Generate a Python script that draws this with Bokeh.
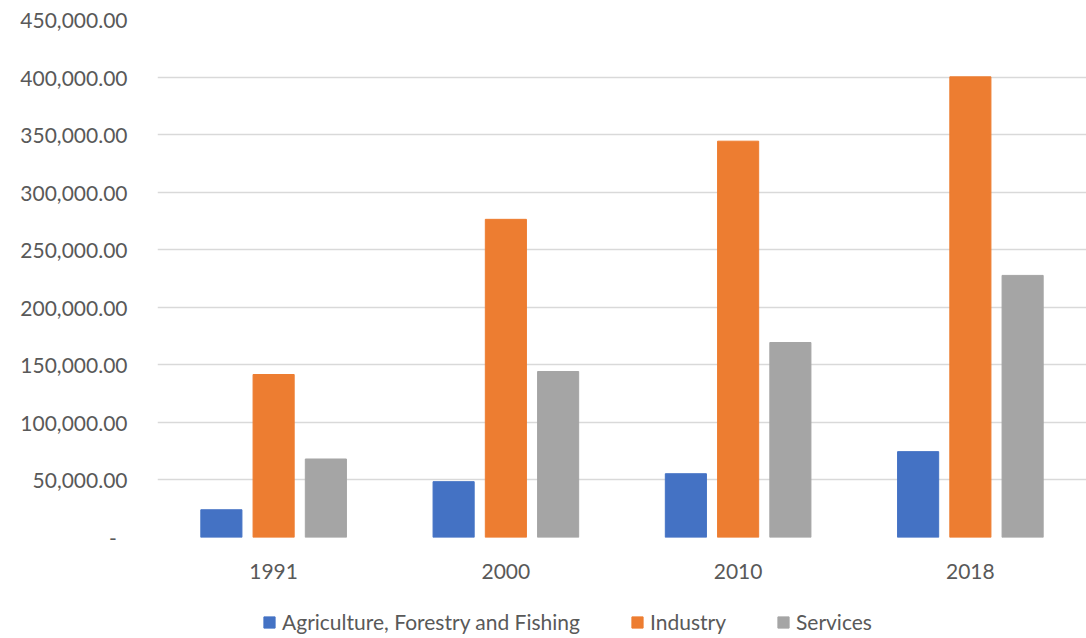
from bokeh.plotting import figure
from bokeh.layouts import column
from bokeh.models import (ColumnDataSource, FactorRange, Range1d, Legend, LegendItem,
                          FixedTicker, CustomJSTickFormatter)
from bokeh.transform import dodge
from bokeh.embed import file_html
from bokeh.resources import INLINE

# Data
years = ["1991", "2000", "2010", "2018"]
agriculture = [24100, 48500, 55400, 74600]
industry = [141600, 276400, 344300, 400200]
services = [68200, 144200, 169400, 227700]
y_ticks = [0, 50000, 100000, 150000, 200000, 250000, 300000, 350000, 400000, 450000]

series_names = ["Agriculture, Forestry and Fishing", "Industry", "Services"]
series_cols = ["agri", "ind", "serv"]
colors = ["#4472C4", "#ED7D31", "#A5A5A5"]
FONT = "Lato"
TEXT = "#595959"

source = ColumnDataSource(dict(years=years, agri=agriculture, ind=industry, serv=services))

# Main bar chart
p = figure(x_range=FactorRange(*years), y_range=Range1d(0, 450000),
           width=1086, height=590, output_backend="svg", toolbar_location=None,
           min_border_left=157, min_border_right=0, min_border_top=19,
           min_border_bottom=53, outline_line_color=None)

bar_w = 0.177
offsets = [-0.225, 0.0, 0.225]
for col, off, c in zip(series_cols, offsets, colors):
    p.vbar(x=dodge("years", off, range=p.x_range), top=col, width=bar_w,
           source=source, color=c)

p.yaxis.ticker = FixedTicker(ticks=y_ticks)
p.yaxis.formatter = CustomJSTickFormatter(code="""
    if (tick == 0) { return '-\u00a0\u00a0'; }
    return tick.toLocaleString('en-US', {minimumFractionDigits: 2, maximumFractionDigits: 2});
""")
for ax in (p.xaxis, p.yaxis):
    ax.axis_line_color = None
    ax.major_tick_line_color = None
    ax.minor_tick_line_color = None
    ax.major_label_text_font = FONT
    ax.major_label_text_font_size = "21px"
    ax.major_label_text_color = TEXT
p.yaxis.major_label_standoff = 24
p.xaxis.major_label_standoff = 20

p.xgrid.grid_line_color = None
p.ygrid.grid_line_color = "#D9D9D9"
p.ygrid.grid_line_width = 1.5

# Legend strip under the chart (its frame lines up with the chart frame).
# The series renderers here are hidden; only their legend swatches show.
lg = figure(width=1086, height=48, output_backend="svg", toolbar_location=None,
            x_range=FactorRange(*years), y_range=Range1d(0, 1),
            min_border=0, outline_line_color=None)
lg.axis.visible = False
lg.grid.visible = False
swatches = [lg.vbar(x="years", top=col, width=bar_w, source=source, color=c, visible=False)
            for col, c in zip(series_cols, colors)]

legend = Legend(items=[LegendItem(label=n, renderers=[r]) for n, r in zip(series_names, swatches)],
                orientation="horizontal", location=(105, 4),
                label_text_font=FONT, label_text_font_size="21px",
                label_text_color=TEXT, glyph_width=14, glyph_height=14,
                label_standoff=6, spacing=50, padding=0, margin=0,
                inactive_fill_alpha=0,
                border_line_color=None, background_fill_alpha=0)
lg.add_layout(legend, "center")

layout = column(p, lg, spacing=0)
open("out.html", "w").write(file_html(layout, INLINE))
